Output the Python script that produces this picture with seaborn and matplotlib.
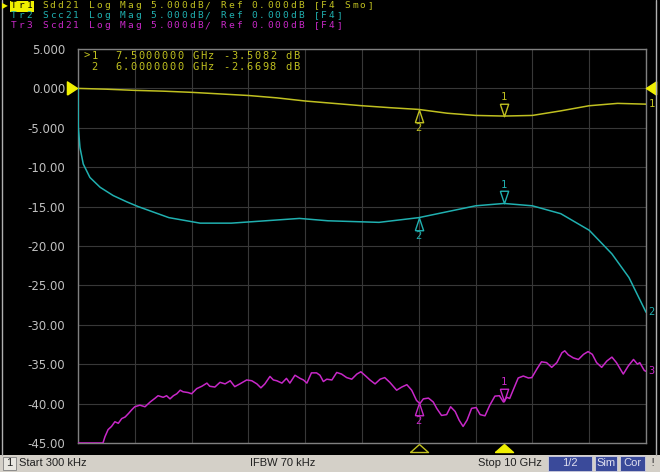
import numpy as np
import pandas as pd
import matplotlib.pyplot as plt
import matplotlib.transforms as mtransforms
from matplotlib.patches import Rectangle
import seaborn as sns

# Tr1 Sdd21 (yellow), frequency in GHz, magnitude in dB
f_sdd = [0.0003, 0.5, 1.0, 1.5, 2.0, 2.5, 3.0, 3.5, 4.0, 4.5, 5.0,
         5.5, 6.0, 6.5, 7.0, 7.5, 8.0, 8.5, 9.0, 9.5, 10.0]
sdd21 = [0.0, -0.1, -0.25, -0.35, -0.5, -0.7, -0.9, -1.2, -1.6, -1.9, -2.2,
         -2.45, -2.67, -3.15, -3.43, -3.51, -3.43, -2.85, -2.2, -1.9, -2.0]

# Tr2 Scc21 (cyan)
f_scc = [0.0003, 0.005, 0.035, 0.093, 0.21, 0.39, 0.62, 0.86, 1.06, 1.6, 2.15,
         2.7, 3.3, 3.9, 4.4, 5.3, 6.0, 7.0, 7.5, 8.0, 8.5, 9.0, 9.4, 9.7, 10.0]
scc21 = [0.0, -4.9, -7.5, -9.6, -11.3, -12.55, -13.6, -14.4, -15.0, -16.4, -17.1,
         -17.1, -16.8, -16.5, -16.8, -17.0, -16.4, -14.9, -14.6, -14.9, -15.9,
         -18.0, -21.0, -24.0, -28.4]

# Tr3 Scd21 (magenta)
f_scd = [0.0003, 0.44, 0.475, 0.53, 0.59, 0.65, 0.71, 0.77, 0.83, 0.89, 0.945,
         1.0, 1.09, 1.18, 1.27, 1.36, 1.41, 1.5, 1.56, 1.62, 1.68, 1.74, 1.8,
         1.85, 1.94, 2.0, 2.09, 2.18, 2.27, 2.32, 2.41, 2.5, 2.59, 2.68, 2.76,
         2.85, 2.97, 3.06, 3.15, 3.22, 3.29, 3.38, 3.44, 3.5, 3.59, 3.67, 3.73,
         3.82, 3.91, 3.97, 4.03, 4.11, 4.2, 4.26, 4.32, 4.38, 4.47, 4.555, 4.64,
         4.73, 4.82, 4.91, 4.98, 5.065, 5.14, 5.23, 5.32, 5.4, 5.49, 5.61, 5.7,
         5.79, 5.875, 5.96, 6.02, 6.08, 6.17, 6.255, 6.315, 6.4, 6.49, 6.56,
         6.64, 6.71, 6.78, 6.85, 6.93, 7.01, 7.08, 7.165, 7.25, 7.34, 7.42,
         7.49, 7.55, 7.6, 7.66, 7.75, 7.84, 7.93, 7.99, 8.08, 8.16, 8.25, 8.34,
         8.43, 8.52, 8.57, 8.63, 8.72, 8.81, 8.9, 8.98, 9.055, 9.13, 9.22, 9.31,
         9.4, 9.48, 9.6, 9.69, 9.78, 9.85, 9.89, 9.97, 10.0]
scd21 = [-45.0, -45.0, -44.2, -43.3, -42.9, -42.3, -42.5, -41.9, -41.7, -41.25,
         -40.8, -40.4, -40.2, -40.4, -39.8, -39.3, -39.0, -39.2, -39.0, -39.4,
         -39.0, -38.75, -38.3, -38.5, -38.6, -38.75, -38.1, -37.8, -37.4, -37.8,
         -37.9, -37.3, -37.5, -37.1, -37.85, -37.5, -37.0, -37.1, -37.5, -38.0,
         -37.5, -36.55, -37.0, -37.1, -37.4, -36.8, -37.4, -36.4, -36.8, -37.0,
         -37.4, -36.1, -36.1, -36.4, -37.2, -36.9, -37.0, -36.05, -36.25, -36.7,
         -36.9, -36.25, -35.96, -36.5, -37.0, -37.5, -36.9, -36.7, -37.3, -38.3,
         -37.9, -37.6, -38.3, -39.6, -40.0, -39.4, -39.3, -39.8, -40.6, -41.5,
         -41.4, -40.4, -41.0, -42.1, -42.9, -42.1, -40.6, -40.5, -41.4, -41.55,
         -40.2, -39.05, -39.0, -39.8, -39.2, -39.35, -38.3, -36.75, -36.5,
         -36.75, -36.7, -35.6, -34.7, -34.8, -35.4, -34.8, -33.55, -33.3, -33.8,
         -34.2, -34.4, -33.75, -33.4, -33.75, -34.8, -35.4, -34.6, -34.1, -34.8,
         -36.25, -35.2, -34.4, -35.0, -34.8, -35.8, -35.9]

y_ticks = [5, 0, -5, -10, -15, -20, -25, -30, -35, -40, -45]
y_labels = ["5.000", "0.000", "-5.000", "-10.00", "-15.00", "-20.00",
            "-25.00", "-30.00", "-35.00", "-40.00", "-45.00"]

trace_names = ["Tr1", "Tr2", "Tr3"]
header = [" Sdd21 Log Mag 5.000dB/ Ref 0.000dB [F4 Smo]",
          " Scc21 Log Mag 5.000dB/ Ref 0.000dB [F4]",
          " Scd21 Log Mag 5.000dB/ Ref 0.000dB [F4]"]
readout = [">1  7.5000000 GHz -3.5082 dB",
           " 2  6.0000000 GHz -2.6698 dB"]
marker_f = [7.5, 6.0]

YEL, CYN, MAG = "#c0c020", "#20b0b0", "#c828c8"
BRIGHT = "#f0f000"
colors = [YEL, CYN, MAG]
W, H = 660, 472

sns.set_style("dark", {"axes.facecolor": "black", "figure.facecolor": "black"})
plt.rcParams['font.family'] = ['DejaVu Sans']
MONO = "DejaVu Sans Mono"

fig = plt.figure(figsize=(6.6, 4.72), dpi=100)
ax = fig.add_axes([78 / W, 29 / H, 568 / W, 394 / H])

traces = [(f_sdd, sdd21), (f_scc, scc21), (f_scd, scd21)]
for (f, v), c in zip(traces, colors):
    df = pd.DataFrame({"freq": f, "dB": v})
    sns.lineplot(data=df, x="freq", y="dB", color=c, linewidth=1.1, ax=ax, zorder=3)

ax.set_xlim(0.0003, 10)
ax.set_ylim(-45, 5)
ax.set_xticks(np.linspace(0.0003, 10, 11))
ax.set_xticklabels([])
ax.set_yticks(y_ticks)
ax.set_yticklabels(y_labels, color="#c0c0c0", fontsize=8.5)
ax.tick_params(length=0, pad=9)
ax.set_xlabel("")
ax.set_ylabel("")
ax.grid(True, color="#383838", linewidth=0.8)
for s in ax.spines.values():
    s.set_color("#808080")
    s.set_linewidth(1.0)


def shift(dy_px):
    return ax.transData + mtransforms.ScaledTranslation(0, dy_px / 100, fig.dpi_scale_trans)


# tall narrow triangles used for the markers (closed outlines)
tri_down = [(-4, 6), (4, 6), (0, -6), (-4, 6)]
tri_up = [(-4, -6), (4, -6), (0, 6), (-4, -6)]

for (f, v), c in zip(traces, colors):
    for num, mf in zip(["1", "2"], marker_f):
        mv = np.interp(mf, f, v)
        up = num == "1"
        ax.plot(mf, mv, marker=tri_down if up else tri_up, markersize=9,
                markerfacecolor="none", markeredgecolor=c, markeredgewidth=1,
                linestyle="none", transform=shift(6.5 if up else -6.5), zorder=4)
        ax.annotate(num, (mf, mv), xytext=(0, 13.5 if up else -13.5),
                    textcoords="offset points", ha="center", va="center",
                    color=c, fontsize=7.5, family=MONO)

# trace end labels on the right
for i, ((f, v), c) in enumerate(zip(traces, colors)):
    ax.annotate(str(i + 1), (10, v[-1]), xytext=(4, 0), textcoords="offset points",
                ha="center", va="center", color=c, fontsize=7.5,
                family=MONO, annotation_clip=False)

# reference level pointers and bottom marker pointers
bt = mtransforms.blended_transform_factory(ax.transAxes, ax.transData)
ax.plot([-0.0106], [0], marker=[(-5, -6.5), (5, 0), (-5, 6.5), (-5, -6.5)], markersize=9.5,
        color=BRIGHT, transform=bt, clip_on=False, zorder=5)
ax.plot([1.0088], [0], marker=[(5, -6.5), (-5, 0), (5, 6.5), (5, -6.5)], markersize=9.5,
        color=BRIGHT, transform=bt, clip_on=False, zorder=5)
bt2 = mtransforms.blended_transform_factory(ax.transData, ax.transAxes)
flat_up = [(-9, -4), (9, -4), (0, 4), (-9, -4)]
ax.plot([marker_f[1]], [-0.0127], marker=flat_up, markersize=13, markerfacecolor="none",
        markeredgecolor=YEL, markeredgewidth=1, transform=bt2, clip_on=False)
ax.plot([marker_f[0]], [-0.0127], marker=flat_up, markersize=13, color=BRIGHT,
        transform=bt2, clip_on=False)


# the analyzer font is a wide fixed-pitch font: lay characters out on a fixed pitch
def fixed_pitch(x_px, y_px, s, color, size, pitch=7.75):
    for k, ch in enumerate(s):
        if ch != " ":
            fig.text((x_px + k * pitch) / W, 1 - y_px / H, ch, color=color,
                     fontsize=size, family=MONO, ha="center", va="center")


for i, (name, txt, c) in enumerate(zip(trace_names, header, colors)):
    y = 6 + 10 * i
    if i == 0:
        fig.patches.append(Rectangle((10 / W, 1 - 11.5 / H), 24 / W, 10 / H,
                                     transform=fig.transFigure, facecolor=BRIGHT,
                                     edgecolor="none"))
        fixed_pitch(14, y, name, "black", 6.8)
    else:
        fixed_pitch(14, y, name, c, 6.8)
    fixed_pitch(14 + 3 * 7.75, y, txt, c, 6.8)
fig.text(4.5 / W, 1 - 6 / H, "\u25b6", color=BRIGHT, fontsize=5.5, ha="center", va="center")

for i, txt in enumerate(readout):
    fixed_pitch(87, 56 + 11 * i, txt, YEL, 7.5)

# status bar
fig.patches.append(Rectangle((0, 0), 1, 17 / H, transform=fig.transFigure,
                             facecolor="#d4d0c8", edgecolor="none"))
fig.patches.append(Rectangle((3 / W, 2 / H), 13 / W, 13 / H, transform=fig.transFigure,
                             facecolor="#e8e6e0", edgecolor="#808080", linewidth=0.6))
SB = dict(fontsize=8, va="center", color="#202020", family="Liberation Sans")
fig.text(9.5 / W, 8.5 / H, "1", ha="center", **SB)
fig.text(19 / W, 8.5 / H, "Start 300 kHz", **SB)
fig.text(250 / W, 8.5 / H, "IFBW 70 kHz", **SB)
fig.text(478 / W, 8.5 / H, "Stop 10 GHz", **SB)
for x0, w, t in [(548, 44, "1/2"), (595, 22, "Sim"), (620, 25, "Cor")]:
    fig.patches.append(Rectangle((x0 / W, 1 / H), w / W, 15 / H, transform=fig.transFigure,
                                 facecolor="#3a4a9a", edgecolor="#d0d0e0", linewidth=0.6))
    fig.text((x0 + w / 2) / W, 8.5 / H, t, fontsize=8, ha="center", va="center",
             color="#e0e0f0", family="Liberation Sans")
fig.text(653 / W, 8.5 / H, "!", fontsize=8, ha="center", va="center", color="#404040")

# window borders
for xb in [2, 656]:
    fig.add_artist(plt.Line2D([xb / W, xb / W], [17 / H, 1], transform=fig.transFigure,
                              color="#b0b0b0", linewidth=1))

fig.savefig("out.png", dpi=100, facecolor="black")
